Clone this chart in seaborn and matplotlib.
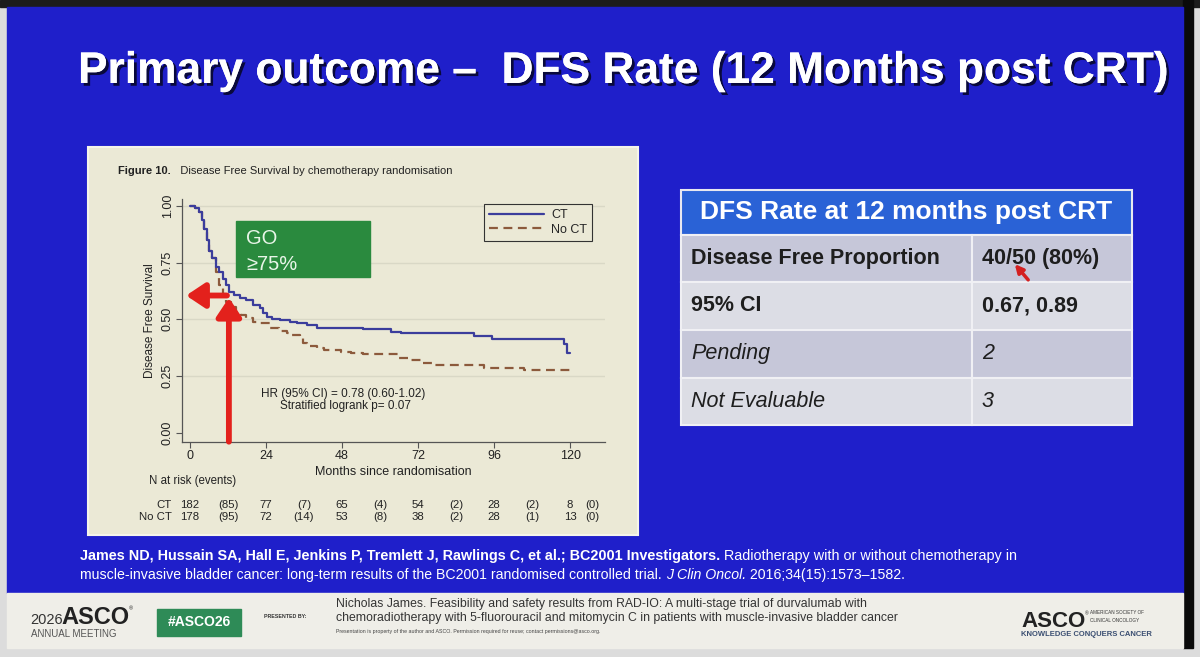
import matplotlib
matplotlib.use("Agg")
import matplotlib.pyplot as plt
import matplotlib.patheffects as pe
import matplotlib.transforms as mtransforms
from matplotlib.patches import Rectangle
import seaborn as sns

# Kaplan-Meier steps (months since randomisation, DFS)
ct_months = [0, 1.5, 2.9, 3.8, 4.5, 5.3, 6.1, 7.1, 8.2, 9.2, 10.3, 11.4, 12.4,
             14.0, 15.8, 17.8, 20.0, 22.0, 23.0, 24.2, 26.0, 28.4, 31.6, 33.7,
             36.9, 40.1, 54.5, 63.5, 65.7, 66.7, 89.6, 95.4, 118.0, 119.0, 120.0]
ct_surv = [1.0, 0.99, 0.975, 0.94, 0.90, 0.85, 0.80, 0.77, 0.73, 0.71, 0.68, 0.65, 0.62,
           0.607, 0.595, 0.585, 0.565, 0.55, 0.53, 0.512, 0.503, 0.497, 0.49, 0.483,
           0.476, 0.463, 0.456, 0.446, 0.443, 0.44, 0.427, 0.412, 0.39, 0.35, 0.35]

noct_months = [0, 1.5, 2.9, 3.8, 4.5, 5.3, 6.1, 7.1, 8.2, 9.3, 10.3, 11.4, 13.0,
               14.6, 16.0, 17.8, 20.0, 22.0, 25.2, 28.0, 30.5, 32.0, 34.8, 35.8,
               36.9, 40.0, 42.2, 47.6, 50.7, 54.5, 65.7, 68.8, 73.1, 77.3, 92.8,
               105.5, 120.0]
noct_surv = [1.0, 0.99, 0.975, 0.94, 0.90, 0.85, 0.80, 0.77, 0.71, 0.65, 0.61, 0.578, 0.555,
             0.534, 0.52, 0.505, 0.49, 0.483, 0.462, 0.45, 0.44, 0.431, 0.416, 0.394,
             0.382, 0.372, 0.365, 0.357, 0.350, 0.346, 0.328, 0.321, 0.306, 0.298, 0.287,
             0.277, 0.277]

xticks = [0, 24, 48, 72, 96, 120]
yticks = [0.0, 0.25, 0.50, 0.75, 1.00]

# numbers at risk (at tick months) and events (between ticks)
risk_months = [0, 24, 48, 72, 96, 120]
event_months = [12, 36, 60, 84, 108, 127]
ct_at_risk = [182, 77, 65, 54, 28, 8]
ct_events = [85, 7, 4, 2, 2, 0]
noct_at_risk = [178, 72, 53, 38, 28, 13]
noct_events = [95, 14, 8, 2, 1, 0]

# 12 month landmark marked with the red arrows
go_month = 12.3
go_surv = 0.605

table_labels = ["Disease Free Proportion", "95% CI", "Pending", "Not Evaluable"]
table_values = ["40/50 (80%)", "0.67, 0.89", "2", "3"]

BLUE = "#1f1fca"
PANEL = "#ebe9d6"
RED = "#e3211c"
NARROW = ["Liberation Sans Narrow", "Liberation Sans", "DejaVu Sans"]

sns.set_theme(style="ticks")
plt.rcParams["font.family"] = ["Liberation Sans", "DejaVu Sans"]

fig = plt.figure(figsize=(12, 6.57), dpi=100)

# background axes in pixel units for the slide furniture
bg = fig.add_axes([0, 0, 1, 1])
bg.set_xlim(0, 1200)
bg.set_ylim(657, 0)
bg.axis("off")

bg.add_patch(Rectangle((0, 0), 1200, 657, color="#dcdcdc"))
bg.add_patch(Rectangle((0, 0), 1200, 7, color="#1c1c1c"))
bg.add_patch(Rectangle((1183, 0), 10, 648, color="#0a0a0a"))
bg.add_patch(Rectangle((7, 7), 1176, 586, color=BLUE))
bg.add_patch(Rectangle((7, 593), 1176, 55, color="#efeee8"))

# title
bg.text(78, 83, "Primary outcome \u2013  DFS Rate (12 Months post CRT)", color="white",
        fontsize=31.9, fontweight="bold", family=NARROW, va="baseline",
        path_effects=[pe.withSimplePatchShadow(offset=(2, -2), shadow_rgbFace="black", alpha=0.7),
                      pe.Normal()])

# chart panel
bg.add_patch(Rectangle((88, 147), 550, 388, facecolor=PANEL, edgecolor="#f5f4ea", lw=1.5))
t = bg.text(118, 171, "Figure 10.", fontsize=8, fontweight="bold", color="#222", va="center")
bg.annotate("   Disease Free Survival by chemotherapy randomisation", xy=(1, 0.5),
            xycoords=t, va="center", fontsize=8, color="#222")

# KM axes
x0, x1, y0, y1 = 182, 605, 199.2, 441.7
ax = fig.add_axes([x0 / 1200, 1 - y1 / 657, (x1 - x0) / 1200, (y1 - y0) / 657])
ax.set_facecolor("none")
ax.set_xlim(-2.5, 131)
ax.set_ylim(-0.04, 1.03)
for gy in yticks[1:]:
    ax.axhline(gy, color="#d9d8c6", lw=1.0, zorder=0)

sns.lineplot(x=ct_months, y=ct_surv, drawstyle="steps-post", color="#3b3d9c", lw=1.6,
             estimator=None, sort=False, label="CT", ax=ax, zorder=3)
sns.lineplot(x=noct_months, y=noct_surv, drawstyle="steps-post", color="#8c5a3c", lw=1.6,
             linestyle=(0, (4, 2.5)), estimator=None, sort=False, label="No CT", ax=ax, zorder=2)

sns.despine(ax=ax)
for s in ["left", "bottom"]:
    ax.spines[s].set_color("#555")
    ax.spines[s].set_linewidth(0.9)
ax.set_xticks(xticks)
ax.set_xticklabels([str(v) for v in xticks])
ax.set_yticks(yticks)
ax.set_yticklabels([f"{v:.2f}" for v in yticks], rotation=90, va="center")
ax.tick_params(direction="out", length=4, width=0.8, color="#555", labelsize=9,
               labelcolor="#222", pad=2)
ax.set_xlabel("Months since randomisation", fontsize=9, color="#222", labelpad=3)
ax.set_ylabel("Disease Free Survival", fontsize=8.5, color="#222", labelpad=4)

leg = ax.legend(loc="upper right", bbox_to_anchor=(0.985, 1.005), fontsize=9,
                frameon=True, fancybox=False, edgecolor="#333", facecolor=PANEL,
                framealpha=1, handlelength=4.4, borderpad=0.4, labelspacing=0.2,
                handletextpad=0.6)
leg.get_frame().set_linewidth(0.8)

# red landmark arrows
ax.annotate("", xy=(go_month, go_surv - 0.01), xytext=(go_month, -0.04),
            arrowprops=dict(arrowstyle="-|>,head_length=0.75,head_width=0.5", lw=4.2,
                            color=RED, shrinkA=0, shrinkB=0, mutation_scale=15),
            annotation_clip=False, zorder=5)
ax.annotate("", xy=(-1.2, go_surv), xytext=(go_month - 0.6, go_surv),
            arrowprops=dict(arrowstyle="-|>,head_length=0.75,head_width=0.5", lw=4.2,
                            color=RED, shrinkA=0, shrinkB=0, mutation_scale=15),
            annotation_clip=False, zorder=5)

# GO box
ax.add_patch(Rectangle((236, 221), 134, 56, transform=bg.transData, color="#2a8a3e",
                       zorder=6, clip_on=False))
ax.text(246, 238, "GO", transform=bg.transData, color="#e8f5e8", fontsize=14.5,
        va="center", zorder=7)
ax.text(246, 264, "\u226575%", transform=bg.transData, color="#e8f5e8", fontsize=14.5,
        va="center", zorder=7)

bg.text(343, 394, "HR (95% CI) = 0.78 (0.60-1.02)", fontsize=8.5, color="#222",
        ha="center", va="center")
bg.text(345, 406, "Stratified logrank p= 0.07", fontsize=8.5, color="#222",
        ha="center", va="center")

# numbers at risk
risk_tf = mtransforms.blended_transform_factory(ax.transData, bg.transData)
ax.text(-12.9, 481, "N at risk (events)", transform=risk_tf, fontsize=8.3, color="#222",
        va="center", ha="left")
for row_y, name, at_risk, events in [(505.5, "CT", ct_at_risk, ct_events),
                                     (517.5, "No CT", noct_at_risk, noct_events)]:
    ax.text(-5.8, row_y, name, transform=risk_tf, fontsize=8.2, color="#222",
            va="center", ha="right")
    for m, n in zip(risk_months, at_risk):
        ax.text(m, row_y, str(n), transform=risk_tf, fontsize=8.2, color="#222",
                va="center", ha="center")
    for m, e in zip(event_months, events):
        ax.text(m, row_y, f"({e})", transform=risk_tf, fontsize=8.2, color="#222",
                va="center", ha="center")

# DFS table
tl, tr, tdiv = 681, 1132, 972
bg.add_patch(Rectangle((tl, 190), tr - tl, 45, facecolor="#2a62d6", edgecolor="#e8e8f0", lw=1.5))
bg.text((tl + tr) / 2, 212.5, "DFS Rate at 12 months post CRT", color="white", fontsize=19,
        fontweight="bold", ha="center", va="center")
row_edges = [235, 281.7, 330, 377.7, 425]
row_cols = ["#c6c7d9", "#dcdde5", "#c6c7d9", "#dcdde5"]
for i, (lab, val) in enumerate(zip(table_labels, table_values)):
    top, bot = row_edges[i], row_edges[i + 1]
    bg.add_patch(Rectangle((tl, top), tdiv - tl, bot - top, facecolor=row_cols[i],
                           edgecolor="#f0f0f4", lw=1.5))
    bg.add_patch(Rectangle((tdiv, top), tr - tdiv, bot - top, facecolor=row_cols[i],
                           edgecolor="#f0f0f4", lw=1.5))
    weight = "bold" if i < 2 else "normal"
    style = "normal" if i < 2 else "italic"
    yc = (top + bot) / 2
    bg.text(691, yc, lab, fontsize=15.5, fontweight=weight, style=style, color="#1e1e1e",
            va="center")
    bg.text(982, yc, val, fontsize=15.5, fontweight=weight, style=style, color="#1e1e1e",
            va="center")
bg.annotate("", xy=(1013, 262), xytext=(1030, 282),
            arrowprops=dict(arrowstyle="-|>", color="#d42020", lw=2.5, mutation_scale=12))

# citation
c1 = bg.text(80, 556, "James ND, Hussain SA, Hall E, Jenkins P, Tremlett J, Rawlings C, et al.; "
             "BC2001 Investigators.", color="white", fontsize=10.4, fontweight="bold",
             family=NARROW, va="center")
bg.annotate(" Radiotherapy with or without chemotherapy in", xy=(1, 0.5), xycoords=c1,
            va="center", color="white", fontsize=10.4, family=NARROW)
c2 = bg.text(80, 575, "muscle-invasive bladder cancer: long-term results of the BC2001 "
             "randomised controlled trial. ", color="white", fontsize=10.2, family=NARROW,
             va="center")
c3 = bg.annotate("J Clin Oncol.", xy=(1, 0.5), xycoords=c2, va="center", color="white",
                 fontsize=10.2, style="italic", family=NARROW)
bg.annotate(" 2016;34(15):1573\u20131582.", xy=(1, 0.5), xycoords=c3, va="center",
            color="white", fontsize=10.2, family=NARROW)

# footer
bg.text(30, 624, "2026", fontsize=10.5, color="#333", va="baseline")
a1 = bg.text(61, 624, "ASCO", fontsize=17, fontweight="bold", color="#222", va="baseline")
bg.annotate("\u00ae", xy=(1, 1), xycoords=a1, fontsize=4, color="#222", va="top")
bg.text(31, 634, "ANNUAL MEETING", fontsize=7, color="#555", va="center")
bg.add_patch(Rectangle((157, 609), 84, 27, color="#2e8b57"))
bg.text(199, 622.5, "#ASCO26", fontsize=10, fontweight="bold", color="white",
        ha="center", va="center")
bg.text(264, 617, "PRESENTED BY:", fontsize=3.8, fontweight="bold", color="#333", va="center")
bg.text(336, 604, "Nicholas James. Feasibility and safety results from RAD-IO: A multi-stage "
        "trial of durvalumab with", fontsize=8.8, color="#333", family=NARROW, va="center")
bg.text(336, 618, "chemoradiotherapy with 5-fluorouracil and mitomycin C in patients with "
        "muscle-invasive bladder cancer", fontsize=8.8, color="#333", family=NARROW,
        va="center")
bg.text(336, 631, "Presentation is property of the author and ASCO. Permission required for "
        "reuse; contact permissions@asco.org.", fontsize=3.8, color="#444", va="center")
a2 = bg.text(1021, 627, "ASCO", fontsize=16, fontweight="bold", color="#222", va="baseline")
bg.annotate("\u00ae", xy=(1, 1), xycoords=a2, fontsize=3.5, color="#222", va="top")
bg.text(1090, 613, "AMERICAN SOCIETY OF", fontsize=3.3, color="#333", va="center")
bg.text(1090, 620, "CLINICAL ONCOLOGY", fontsize=3.3, color="#333", va="center")
bg.text(1021, 634, "KNOWLEDGE CONQUERS CANCER", fontsize=5.5, fontweight="bold",
        color="#3b4f72", va="center")

fig.savefig("out.png", dpi=100)
